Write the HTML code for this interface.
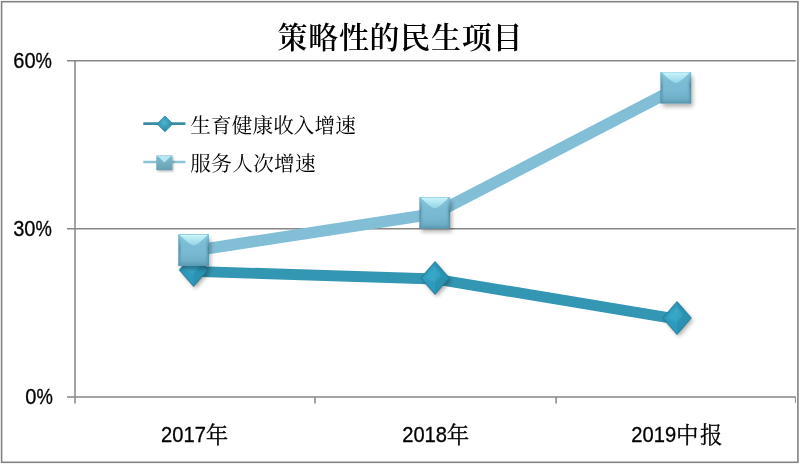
<!DOCTYPE html>
<html lang="zh-CN">
<head>
<meta charset="utf-8">
<title>策略性的民生项目</title>
<style>
html,body{margin:0;padding:0;background:#fff;}
body{width:800px;height:465px;overflow:hidden;}
svg{display:block;}
.lat{font-family:"Liberation Sans",sans-serif;font-size:21.4px;fill:#000;stroke:#000;stroke-width:0.3px;}
.cjk{font-family:"Liberation Serif","Noto Serif CJK SC",serif;fill:#000;}
</style>
</head>
<body>
<svg width="800" height="465" viewBox="0 0 800 465">
<defs>
  <filter id="sh" x="-30%" y="-30%" width="170%" height="170%">
    <feGaussianBlur stdDeviation="2"/>
  </filter>
  <filter id="b1" x="-20%" y="-20%" width="140%" height="140%">
    <feGaussianBlur stdDeviation="0.9"/>
  </filter>
  <linearGradient id="sqh" x1="0" y1="0" x2="1" y2="0">
    <stop offset="0" stop-color="#4f8ba3"/>
    <stop offset="0.05" stop-color="#5f9db5"/>
    <stop offset="0.1" stop-color="#76b6ce"/>
    <stop offset="0.15" stop-color="#7abbd3"/>
    <stop offset="0.86" stop-color="#7abbd3"/>
    <stop offset="0.92" stop-color="#6eaec6"/>
    <stop offset="0.96" stop-color="#5896ae"/>
    <stop offset="1" stop-color="#457f97"/>
  </linearGradient>
  <linearGradient id="sqv" x1="0" y1="0" x2="0" y2="1">
    <stop offset="0" stop-color="#8fcfe3" stop-opacity="0.9"/>
    <stop offset="0.45" stop-color="#7abbd3" stop-opacity="0"/>
    <stop offset="0.85" stop-color="#63a3bc" stop-opacity="0.55"/>
    <stop offset="1" stop-color="#5793ac" stop-opacity="0.95"/>
  </linearGradient>
  <linearGradient id="hl" x1="0" y1="0" x2="0" y2="1">
    <stop offset="0" stop-color="#c9f4fb"/>
    <stop offset="1" stop-color="#93d3e6"/>
  </linearGradient>
  <filter id="b07" x="-20%" y="-20%" width="140%" height="140%">
    <feGaussianBlur stdDeviation="0.7"/>
  </filter>
  <filter id="b05" x="-20%" y="-20%" width="140%" height="140%">
    <feGaussianBlur stdDeviation="0.5"/>
  </filter>
  <radialGradient id="ldm" cx="0.45" cy="0.42" r="0.55">
    <stop offset="0" stop-color="#4db6cf"/>
    <stop offset="0.6" stop-color="#369bb7"/>
    <stop offset="1" stop-color="#2c88a2"/>
  </radialGradient>
  <linearGradient id="lsq" x1="0" y1="0" x2="0" y2="1">
    <stop offset="0" stop-color="#7fbccf"/>
    <stop offset="0.6" stop-color="#72adc0"/>
    <stop offset="1" stop-color="#669eb1"/>
  </linearGradient>
  <g id="sq">
    <rect x="-13.3" y="-11.5" width="30.4" height="30.6" fill="#000" opacity="0.3" filter="url(#sh)"/>
    <rect x="-15.3" y="-15.6" width="30.6" height="31.4" fill="url(#sqh)"/>
    <rect x="-15.3" y="-15.6" width="30.6" height="31.4" fill="url(#sqv)"/>
    <path d="M-13.8,-15 L13.8,-15 Q4,-4.8 0,-4.4 Q-4,-4.8 -13.8,-15Z" fill="url(#hl)" filter="url(#b07)"/>
  </g>
  <g id="dm">
    <path d="M2,-13.5 L16,2.5 L2,18.8 L-12,2.5Z" fill="#000" opacity="0.32" filter="url(#sh)"/>
    <path d="M0,-16.2 L14.1,0 L0,16.2 L-14.1,0Z" fill="#2d9bbd"/>
    <path d="M0,-16.2 L14.1,0 L0,16.2Z" fill="#2888a6" opacity="0.5"/>
    <path d="M0,-16.2 L14.1,0 L0,16.2 L-14.1,0Z" fill="none" stroke="#2a7f99" stroke-width="1.4" opacity="0.75"/>
    <path d="M0,-12 L-10,0 L0,4 L6,-3Z" fill="#3eaccc" opacity="0.7" filter="url(#b1)"/>
  </g>
</defs>

<rect x="0" y="0" width="800" height="465" fill="#fff"/>
<!-- outer border -->
<rect x="1.6" y="1.7" width="796.3" height="460.6" fill="none" stroke="#828282" stroke-width="1.6"/>

<!-- gridlines -->
<g stroke="#868686" stroke-width="1.5" fill="none">
  <line x1="67" y1="60.7" x2="795.7" y2="60.7"/>
  <line x1="67" y1="228.8" x2="795.7" y2="228.8"/>
  <line x1="67" y1="397" x2="795.7" y2="397"/>
  <line x1="75" y1="60.7" x2="75" y2="403.5"/>
  <line x1="315" y1="397" x2="315" y2="403.5"/>
  <line x1="556.1" y1="397" x2="556.1" y2="403.5"/>
  <line x1="795.4" y1="397" x2="795.4" y2="403" stroke-width="0.9"/>
</g>

<!-- series lines -->
<polyline points="193.7,250.7 434.8,213.7 675.8,88.7" fill="none" stroke="#82bfd7" stroke-width="11.5" stroke-linejoin="round"/>
<polyline points="193.7,271.3 435,279 677,319.1" fill="none" stroke="#3396b2" stroke-width="10.8" stroke-linejoin="round"/>

<!-- markers -->
<use href="#dm" x="193.6" y="270"/>
<use href="#dm" x="435" y="278"/>
<use href="#dm" x="677" y="318"/>
<use href="#sq" x="193.7" y="250"/>
<use href="#sq" x="434.8" y="212.8"/>
<use href="#sq" x="675.8" y="87.6"/>

<!-- legend -->
<line x1="143.3" y1="123.6" x2="185.4" y2="123.6" stroke="#3c8da4" stroke-width="2.6"/>
<path d="M164.9,115.9 L172.8,123.8 L164.9,131.8 L157,123.8Z" fill="url(#ldm)" stroke="#2f869f" stroke-width="0.8"/>
<line x1="143.3" y1="162" x2="185.4" y2="162" stroke="#8cc3d3" stroke-width="2.6"/>
<rect x="157.6" y="157" width="16" height="14.6" fill="#000" opacity="0.25" filter="url(#b1)"/>
<rect x="156.3" y="155.4" width="16.1" height="14.8" fill="url(#lsq)"/>
<path d="M157.6,156 L171.2,156 L164.4,162.6Z" fill="#b4e7f1" filter="url(#b05)"/>
<text class="cjk" x="190.3" y="133" font-size="20.6" letter-spacing="0.12">生育健康收入增速</text>
<text class="cjk" x="190.3" y="171.3" font-size="20.6" letter-spacing="0.35">服务人次增速</text>

<!-- title -->
<text class="cjk" x="277.5" y="47.8" font-size="30" font-weight="600" letter-spacing="0.7">策略性的民生项目</text>

<!-- y axis labels -->
<text class="lat" x="13.3" y="68.3"><tspan textLength="22.3" lengthAdjust="spacingAndGlyphs">60</tspan><tspan textLength="16.4" lengthAdjust="spacingAndGlyphs">%</tspan></text>
<text class="lat" x="13.2" y="236.2"><tspan textLength="22.3" lengthAdjust="spacingAndGlyphs">30</tspan><tspan textLength="16.4" lengthAdjust="spacingAndGlyphs">%</tspan></text>
<text class="lat" x="25.3" y="404.2"><tspan textLength="11.15" lengthAdjust="spacingAndGlyphs">0</tspan><tspan textLength="16.4" lengthAdjust="spacingAndGlyphs">%</tspan></text>

<!-- x axis labels -->
<text class="lat" x="161.1" y="442.2"><tspan textLength="44.8" lengthAdjust="spacingAndGlyphs">2017</tspan><tspan class="cjk" font-size="22.5" dx="-0.2" dy="0.6">年</tspan></text>
<text class="lat" x="402.2" y="442.2"><tspan textLength="44.8" lengthAdjust="spacingAndGlyphs">2018</tspan><tspan class="cjk" font-size="22.5" dx="-0.2" dy="0.6">年</tspan></text>
<text class="lat" x="631.3" y="442.2"><tspan textLength="44.8" lengthAdjust="spacingAndGlyphs">2019</tspan><tspan class="cjk" font-size="22.5" dx="-0.2" dy="0.6" letter-spacing="1.6">中报</tspan></text>
</svg>
</body>
</html>
